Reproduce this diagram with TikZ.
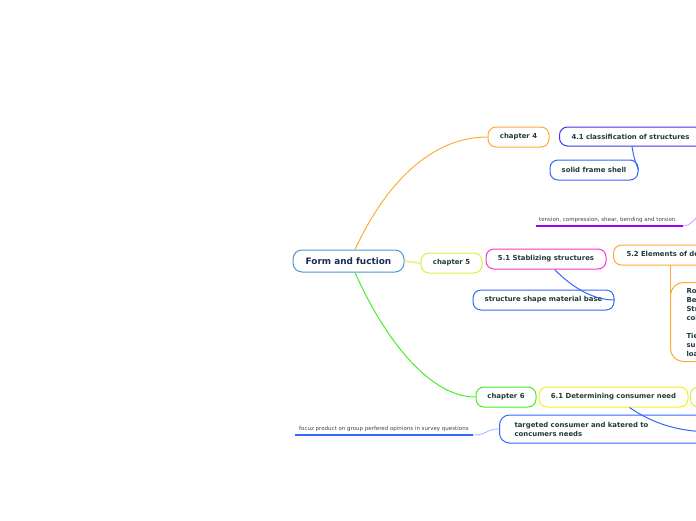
\documentclass[tikz,border=0pt]{standalone}
\usepackage{fontspec}
\setmainfont{DejaVu Sans}
\definecolor{txt}{HTML}{1F3B3B}
\definecolor{navy}{HTML}{1A2A55}
\definecolor{cform}{HTML}{4F95D0}
\definecolor{corange}{HTML}{FFAA33}
\definecolor{cyel}{HTML}{D8F040}
\definecolor{cyell}{HTML}{EEF290}
\definecolor{cmag}{HTML}{FF33CC}
\definecolor{cblue}{HTML}{3366FF}
\definecolor{cpblue}{HTML}{4433EE}
\definecolor{cgreen}{HTML}{44EE22}
\definecolor{cyellow}{HTML}{EEEE22}
\definecolor{cpurple}{HTML}{9900FF}
\definecolor{clpurple}{HTML}{CC99FF}
\definecolor{clblue}{HTML}{99BBFF}
\definecolor{cgray}{HTML}{444444}
\begin{document}
\begin{tikzpicture}[x=1pt,y=-1pt,
  box/.style={draw, rounded corners=8pt, line width=1pt, fill=white, minimum height=20pt,
    inner sep=0pt, font=\fontsize{6.9}{8}\selectfont\bfseries, text=txt},
  small/.style={inner sep=0pt, font=\fontsize{5.5}{6.5}\selectfont, text=cgray, anchor=west},
  link/.style={line width=1pt}]
\useasboundingbox (0,0) rectangle (696,520);
\clip (0,0) rectangle (696,520);

\node[box, draw=cform, minimum width=111pt, minimum height=22pt, rounded corners=9pt,
  text=navy, font=\fontsize{8.9}{10}\selectfont\bfseries] (form) at (348.5,261) {Form and fuction};

\node[box, draw=corange, minimum width=61pt] (ch4) at (518.5,137) {chapter 4};
\node[box, draw=cyel, minimum width=61pt] (ch5) at (451.5,263) {chapter 5};
\node[box, draw=cgreen, minimum width=60pt] (ch6) at (506,397) {chapter 6};

\draw[link, corange] (form.north) ++(6.5,0) .. controls (385,185) and (430,137) .. (ch4.west);
\draw[link, cgreen] (form.south) ++(6.5,0) .. controls (385,340) and (430,397) .. (ch6.west);
\draw[line width=2pt, cyell] (form.east) -- (ch5.west);

% chapter 4 branch
\node[box, draw=cpblue, minimum width=150pt, minimum height=19pt, anchor=west,
  text width=138pt, align=left] (c41) at (559,136.5) {\hspace*{6pt}4.1 classification of structures};
\node[box, draw=cblue, minimum width=88pt] (solid) at (594,170) {solid frame shell};
\draw[link, cblue] ([xshift=73pt]c41.south west) .. controls (634,158) .. (solid.east);

\node[small] (tens) at (539,219.5) {tension, compression, shear, bending and torsion.};
\coordinate (tl) at (536,226);
\coordinate (tr) at (683,226);
\coordinate (toff) at (702,212);
\draw[line width=1.5pt, cpurple] (tl) -- (tr);
\draw[line width=0.8pt, clpurple] (tr) .. controls (690,226) and (694,220) .. (toff);

% chapter 5 branch
\node[box, draw=cmag, minimum width=120pt] (s51) at (546,259) {5.1 Stablizing structures};
\node[box, draw=cblue, minimum width=141pt] (ssm) at (543.5,300) {structure shape material base};
\draw[link, cblue] ([xshift=69pt]s51.south west) .. controls (575,290) and (595,300) .. (ssm.east);

\node[box, draw=corange, minimum width=110pt, anchor=west, text width=98pt, align=left]
  (s52) at (613,255) {\hspace*{7pt}5.2 Elements of design};
\coordinate (s52b) at (670,265);
\node[box, draw=corange, rounded corners=13pt, anchor=north west, minimum width=60pt,
  minimum height=79pt, align=left, inner xsep=8pt,
  font=\fontsize{6.9}{9}\selectfont\bfseries] (elem) at (670,282)
  {\hspace*{8pt}Roof\\\hspace*{8pt}Beams\\\hspace*{8pt}Struts\\\hspace*{8pt}columns\\[9pt]\hspace*{8pt}Ties\\\hspace*{8pt}suspension\\\hspace*{8pt}loads};
\draw[link, corange] (s52b) -- ([yshift=-13pt]elem.north west);

% chapter 6 branch
\node[box, draw=cyellow, minimum width=149pt] (s61) at (613.5,397) {6.1 Determining consumer need};
\node[box, draw=cyel, minimum width=40pt, anchor=west] (s62) at (690,397) {};
\node[box, draw=cblue, minimum width=210pt, minimum height=28pt, anchor=west, text width=195pt,
  align=left, rounded corners=10pt, font=\fontsize{6.9}{9}\selectfont\bfseries]
  (targ) at (499,429) {\hspace*{7.5pt}targeted consumer and katered to\\\hspace*{7.5pt}concumers needs};
\coordinate (soff) at (708,432);
\draw[link, cblue] ([xshift=91pt]s61.south west) .. controls (655,425) and (680,431) .. (soff);

\node[small] (focuz) at (299,429) {focuz product on group perfered opinions in survey questions};
\coordinate (fl) at (295,435);
\coordinate (fr) at (473,435);
\draw[line width=1.5pt, cblue] (fl) -- (fr);
\draw[line width=0.8pt, clblue] (fr) .. controls (488,435) and (485,429) .. (targ.west);
\end{tikzpicture}
\end{document}
